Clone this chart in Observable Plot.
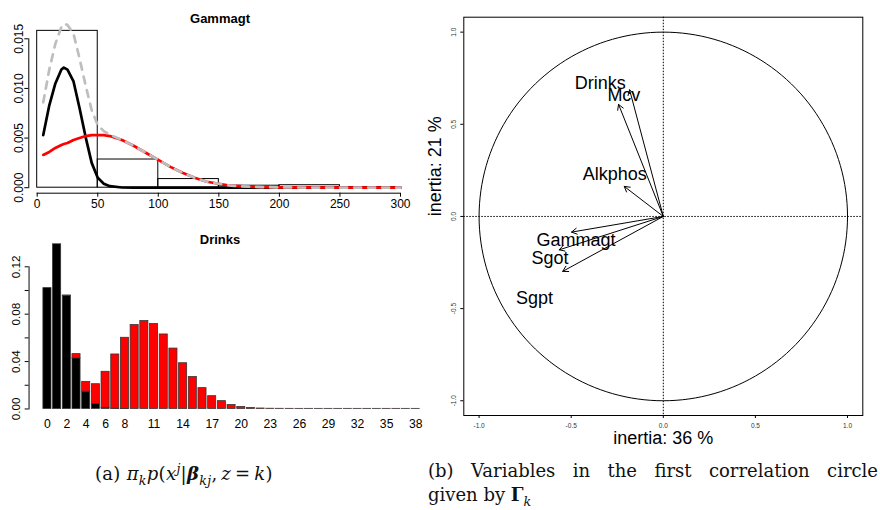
<!DOCTYPE html>
<html><head><meta charset="utf-8">
<script src="https://cdn.jsdelivr.net/npm/d3@7"></script>
<script src="https://cdn.jsdelivr.net/npm/@observablehq/plot@0.6"></script>
<style>
body{margin:0;background:#fff;}
#root{position:relative;width:880px;height:510px;overflow:hidden;font-family:"Liberation Sans",Arial,sans-serif;background:#fff;}
.panel{position:absolute;}
.title{position:absolute;font-weight:bold;font-size:13px;transform:translate(-50%,-50%);white-space:nowrap;line-height:1;}
.cap{position:absolute;font-family:"DejaVu Serif","Liberation Serif",serif;font-size:18px;color:#111;white-space:nowrap;line-height:20px;}
.cap sub,.cap sup{font-size:70%;line-height:0;}
.just{text-align:justify;text-align-last:justify;}
</style></head><body>
<div id="root">
  <div class="panel" id="p1" style="left:0;top:0;width:420px;height:215px;"></div>
  <div class="panel" id="p2" style="left:0;top:220px;width:429px;height:215px;overflow:hidden;"></div>
  <div class="panel" id="p3" style="left:420px;top:0;width:460px;height:450px;"></div>
  <div class="title" style="left:220px;top:18px;">Gammagt</div>
  <div class="title" style="left:220px;top:239px;">Drinks</div>
  <div class="cap" style="left:95px;top:464px;letter-spacing:0.3px;">(a) <i>π</i><sub><i>k</i></sub><i>p</i>(<i>x</i><sup><i>j</i></sup>|<b><i>β</i></b><sub><i>kj</i></sub>,&#8201;<i>z</i>&#8201;=&#8201;<i>k</i>)</div>
  <div class="cap just" style="left:428px;top:461px;width:450px;">(b) Variables in the first correlation circle</div>
  <div class="cap" style="left:428px;top:485px;">given by <b>Γ</b><sub><i>k</i></sub></div>
</div>
<script>
// ---------- Panel (a) top: Gammagt ----------
const gammaBreaks = [0, 50, 100, 150, 200, 250, 300];
const gammaDensity = [0.0158, 0.00284, 0.00087, 0.0002, 0.00025, 0.00001];
const gammaX     = [5, 10, 15, 20, 22, 25, 30, 35, 40, 45, 50, 55, 60, 70, 80, 90, 100, 110, 120, 130, 140, 150, 160, 175, 200, 250, 300];
const gammaComp1 = [0.0053, 0.0083, 0.0105, 0.0119, 0.0121, 0.0119, 0.0107, 0.0080, 0.0051, 0.0025, 0.0010, 0.0004, 0.00015, 0.00002, 0, 0, 0, 0, 0, 0, 0, 0, 0, 0, 0, 0, 0];
const gammaComp2 = [0.0033, 0.0036, 0.0040, 0.0043, 0.0044, 0.0045, 0.0048, 0.0050, 0.0052, 0.0053, 0.0053, 0.0053, 0.0052, 0.0048, 0.0042, 0.0035, 0.0028, 0.0021, 0.0015, 0.0010, 0.0006, 0.0004, 0.0002, 0.0001, 0.00003, 0, 0];
const gammaMix   = [0.0086, 0.0119, 0.0145, 0.0162, 0.0165, 0.0164, 0.0155, 0.0130, 0.0103, 0.0078, 0.0063, 0.0057, 0.00535, 0.0048, 0.0042, 0.0035, 0.0028, 0.0021, 0.0015, 0.0010, 0.0006, 0.0004, 0.0002, 0.0001, 0.00003, 0, 0];
const gammaXTicks = [0, 50, 100, 150, 200, 250, 300];
const gammaYTicks = [0, 0.005, 0.010, 0.015];

// ---------- Panel (a) bottom: Drinks ----------
const drinks = [0,1,2,3,4,5,6,7,8,9,10,11,12,13,14,15,16,17,18,19,20,21,22,23,24,25,26,27,28,29,30,31,32,33,34,35,36,37,38];
const drinksComp1 = [0.102, 0.139, 0.0955, 0.0427, 0.0146, 0.0041, 0.0010, 0.0002, 0.0001, 0,0,0,0,0,0,0,0,0,0,0,0,0,0,0,0,0,0,0,0,0,0,0,0,0,0,0,0,0,0];
const drinksComp2 = [0, 0, 0.0003, 0.0036, 0.0083, 0.0168, 0.0304, 0.0458, 0.0600, 0.0708, 0.0742, 0.0717, 0.0629, 0.0510, 0.0386, 0.0270, 0.0176, 0.0108, 0.0066, 0.0033, 0.0017, 0.0009, 0.0004, 0.0002, 0.00015, 0.00012, 0.0001, 0.0001, 0.0001, 0.0001, 0.0001, 0.0001, 0.0001, 0.0001, 0.0001, 0.0001, 0.0001, 0.0001, 0.0001];
const drinksXTicks = [0, 2, 4, 6, 8, 11, 14, 17, 20, 23, 26, 29, 32, 35, 38];
const drinksYTicks = [0, 0.02, 0.04, 0.06, 0.08, 0.10, 0.12];
const drinksYLabeled = [0, 0.04, 0.08, 0.12];

// ---------- Panel (b): correlation circle ----------
const varNames = ["Drinks", "Mcv", "Alkphos", "Gammagt", "Sgot", "Sgpt"];
const arrowX = [-0.183, -0.243, -0.212, -0.498, -0.565, -0.546];
const arrowY = [0.687, 0.608, 0.163, -0.085, -0.181, -0.298];
const labelX = [-0.342, -0.214, -0.263, -0.474, -0.615, -0.699];
const labelY = [0.724, 0.655, 0.231, -0.131, -0.229, -0.442];
const circleTicks = [-1, -0.5, 0, 0.5, 1];
const inertiaX = "inertia: 36 %";
const inertiaY = "inertia: 21 %";

const font = '"Liberation Sans", Arial, sans-serif';

// ---- Panel 1
const hist = gammaDensity.map((d, i) => ({x1: gammaBreaks[i], x2: gammaBreaks[i + 1], y: d}));
const c1 = gammaX.map((x, i) => ({x, y: gammaComp1[i]}));
const c2 = gammaX.map((x, i) => ({x, y: gammaComp2[i]}));
const cm = gammaX.map((x, i) => ({x, y: gammaMix[i]}));

const p1 = Plot.plot({
  width: 420, height: 215,
  marginLeft: 28.3, marginRight: 20, marginTop: 38.3, marginBottom: 27.8,
  x: {domain: [-6.93, 300]},
  y: {domain: [0, 0.015]},
  style: {fontFamily: font, fontSize: "12px", background: "transparent", overflow: "visible"},
  marks: [
    Plot.rectY(hist, {x1: "x1", x2: "x2", y: "y", fill: "none", stroke: "black", strokeWidth: 1}),
    Plot.line(c1, {x: "x", y: "y", stroke: "black", strokeWidth: 2.7}),
    Plot.line(c2, {x: "x", y: "y", stroke: "#FF0000", strokeWidth: 2.7}),
    Plot.line(cm, {x: "x", y: "y", stroke: "#BEBEBE", strokeWidth: 2.7, strokeDasharray: "7,7"}),
    Plot.frame({anchor: "left", stroke: "black"}),
    Plot.ruleY([0], {x1: 0, x2: 300, dy: 5.5, stroke: "black"}),
    Plot.axisX({ticks: gammaXTicks, tickSize: 4, tickPadding: 2, dy: 5.5, label: null, fontSize: 12, tickFormat: d => String(d)}),
    Plot.axisY({ticks: gammaYTicks, tickSize: 4, tickPadding: 1.6, tickRotate: -90, label: null, fontSize: 12, tickFormat: d => d.toFixed(3)})
  ]
});
document.getElementById("p1").appendChild(p1);

// ---- Panel 2
const drinkRows = drinks.flatMap((k, i) => [
  {k, comp: "c1", v: drinksComp1[i]},
  {k, comp: "c2", v: drinksComp2[i]}
]);
const p2 = Plot.plot({
  width: 440, height: 215,
  marginLeft: 29.3, marginRight: 10, marginTop: 47.5, marginBottom: 21.7,
  x: {type: "band", domain: drinks, range: [44, 430], paddingInner: 0.1667, paddingOuter: 0},
  y: {domain: [0, 0.12]},
  color: {domain: ["c1", "c2"], range: ["black", "#FF0000"]},
  style: {fontFamily: font, fontSize: "12px", background: "transparent", overflow: "visible"},
  marks: [
    Plot.barY(drinkRows, {x: "k", y: "v", fill: "comp", stroke: "#333", strokeWidth: 0.8}),
    Plot.frame({anchor: "left", stroke: "black"}),
    Plot.axisX({ticks: drinksXTicks, tickSize: 0, tickPadding: 10.5, label: null, fontSize: 12.5}),
    Plot.axisY({ticks: drinksYTicks, tickSize: 4, tickPadding: 5.3, tickRotate: -90, label: null, fontSize: 12,
      tickFormat: d => drinksYLabeled.some(t => Math.abs(t - d) < 1e-9) ? d.toFixed(2) : ""})
  ]
});
document.getElementById("p2").appendChild(p2);

// ---- Panel 3
const arrows = varNames.map((n, i) => ({n, x: arrowX[i], y: arrowY[i]}));
const labels = varNames.map((n, i) => ({n, x: labelX[i], y: labelY[i]}));
// unit circle guide (radius 1 reference shape)
const unitCircle = d3.range(0, 361, 2).map(a => ({x: Math.cos(a * Math.PI / 180), y: Math.sin(a * Math.PI / 180)}));

const p3 = Plot.plot({
  width: 460, height: 450,
  marginLeft: 43.3, marginRight: 17.7, marginTop: 16.7, marginBottom: 35,
  x: {domain: [-1.083, 1.083]},
  y: {domain: [-1.08, 1.081]},
  style: {fontFamily: font, fontSize: "12px", background: "transparent", overflow: "visible"},
  marks: [
    Plot.ruleX([0], {stroke: "black", strokeDasharray: "1.5,1.5", strokeWidth: 1}),
    Plot.ruleY([0], {stroke: "black", strokeDasharray: "1.5,1.5", strokeWidth: 1}),
    Plot.line(unitCircle, {x: "x", y: "y", stroke: "black", strokeWidth: 1}),
    Plot.arrow(arrows, {x1: 0, y1: 0, x2: "x", y2: "y", stroke: "black", strokeWidth: 1, headLength: 9, headAngle: 60}),
    Plot.text(labels, {x: "x", y: "y", text: "n", fontSize: 18, fill: "black"}),
    Plot.frame({stroke: "black", strokeWidth: 1}),
    Plot.axisX({ticks: circleTicks, tickSize: 3, tickPadding: 5, label: null, fontSize: 6.5, fill: "#333", tickFormat: d => d.toFixed(1)}),
    Plot.axisY({ticks: circleTicks, tickSize: 3, tickPadding: 5.3, tickRotate: -90, label: null, fontSize: 6.5, fill: "#333", tickFormat: d => d.toFixed(1)}),
    Plot.text([inertiaX], {frameAnchor: "bottom", dy: 28, fontSize: 18, fill: "black"}),
    Plot.text([inertiaY], {frameAnchor: "left", dx: -28.3, rotate: -90, fontSize: 18, fill: "black"})
  ]
});
document.getElementById("p3").appendChild(p3);
</script>
</body></html>
